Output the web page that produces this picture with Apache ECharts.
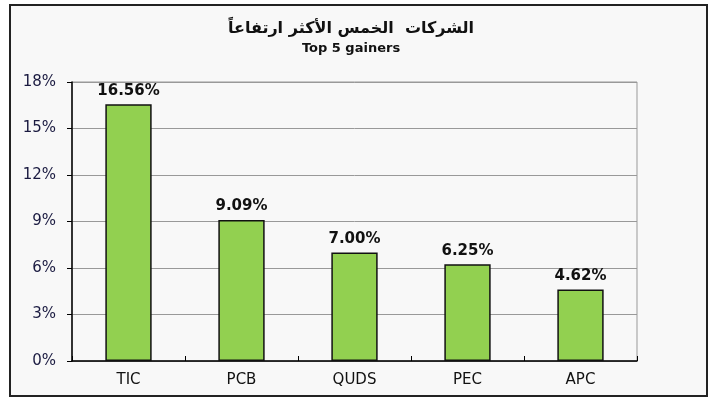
<!DOCTYPE html>
<html><head><meta charset="utf-8">
<script src="https://cdn.jsdelivr.net/npm/echarts@6/dist/echarts.min.js"></script>
<style>html,body{margin:0;padding:0;background:#fff}#c{width:712px;height:400px}</style>
</head><body><div id="c"></div>
<script>
const categories = ['TIC','PCB','QUDS','PEC','APC'];
const values = [16.56, 9.09, 7.00, 6.25, 4.62];
const yTicks = [0,3,6,9,12,15,18];
const titleAr = 'الشركات  الخمس الأكثر ارتفاعاً';
const titleEn = 'Top 5 gainers';

const chart = echarts.init(document.getElementById('c'));
chart.setOption({
  backgroundColor: '#ffffff',
  animation: false,
  graphic: [{
    type: 'rect', z: -10,
    shape: {x: 10, y: 5, width: 697, height: 391},
    style: {fill: '#f8f8f8', stroke: '#222', lineWidth: 2}
  }],
  title: [{
    text: titleAr, left: 346, top: 16, textAlign: 'center',
    textStyle: {fontFamily: 'DejaVu Sans', fontSize: 16, fontWeight: 'bold', color: '#111'}
  },{
    text: titleEn, left: 346, top: 37, textAlign: 'center',
    textStyle: {fontFamily: 'DejaVu Sans', fontSize: 13, fontWeight: 'bold', color: '#111'}
  }],
  grid: {left: 72, right: 75, top: 82, bottom: 39, containLabel: false,
    show: true, borderColor: '#999', borderWidth: 1, backgroundColor: 'transparent'},
  xAxis: {
    type: 'category', data: categories,
    axisLine: {lineStyle: {color: '#000', width: 1.5}},
    axisTick: {show: true, inside: true, alignWithLabel: false, length: 5, lineStyle: {color: '#000'}},
    axisLabel: {fontFamily: 'DejaVu Sans', fontSize: 15, color: '#111', margin: 12}
  },
  yAxis: {
    type: 'value', min: 0, max: 18, interval: 3,
    axisLine: {show: true, lineStyle: {color: '#000', width: 1.5}},
    axisTick: {show: true, length: 5, lineStyle: {color: '#000'}},
    axisLabel: {fontFamily: 'DejaVu Sans', fontSize: 15, color: '#1a1a40', margin: 16,
      formatter: v => v + '%'},
    splitLine: {lineStyle: {color: '#999', width: 1}}
  },
  series: [{
    type: 'bar', data: values, barWidth: '41%',
    itemStyle: {color: '#92d050', borderColor: '#111', borderWidth: 1.5},
    label: {show: true, position: 'top', distance: 6, fontFamily: 'DejaVu Sans',
      fontSize: 15, fontWeight: 'bold', color: '#111',
      formatter: p => p.value.toFixed(2) + '%'}
  }]
});
</script></body></html>
